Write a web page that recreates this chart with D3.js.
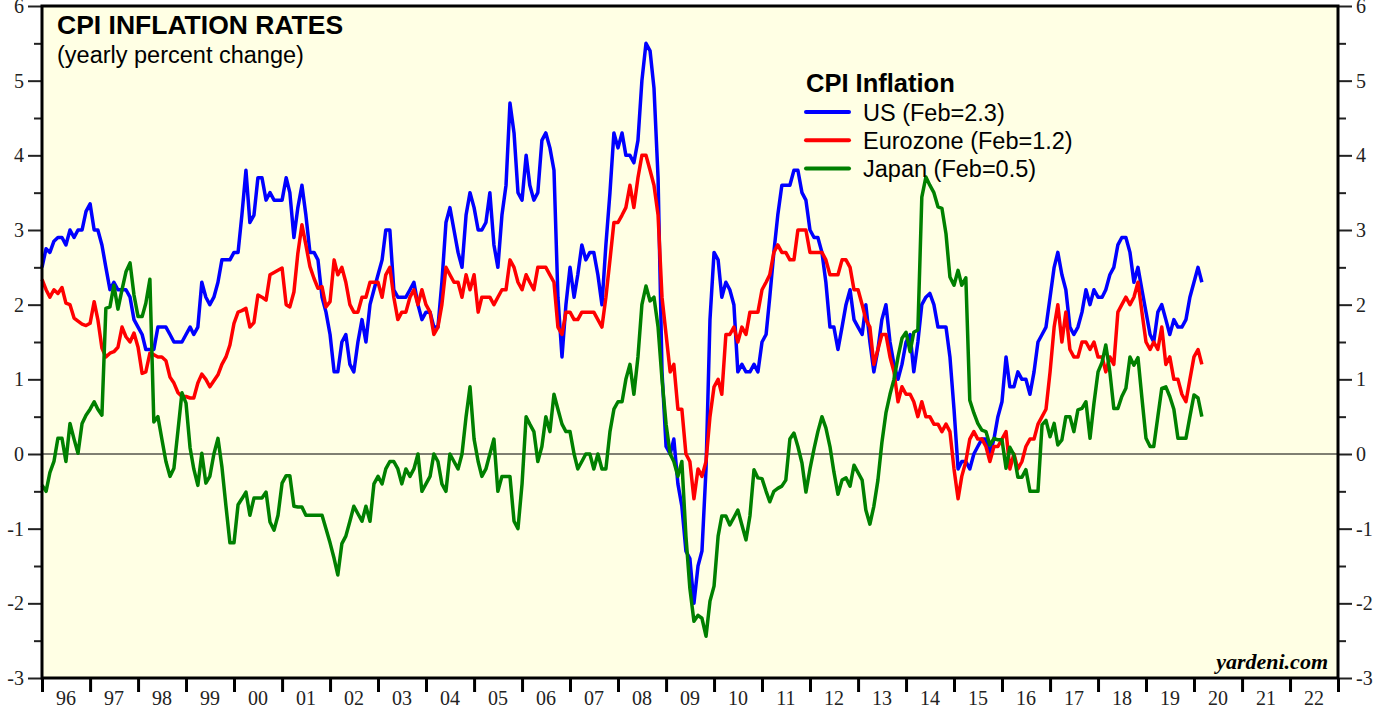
<!DOCTYPE html>
<meta charset="utf-8">
<script src="https://d3js.org/d3.v7.min.js"></script>
<style>
  body { margin: 0; background: #fff; }
  .tick text { font-family: "Liberation Serif", "Times New Roman", serif; font-size: 20px; fill: #222; }
</style>
<body>
<div id="chart"></div>
<script>
// monthly yoy % change, Dec 1995 .. Feb 2020 (one value per month)
var usCpi = [2.5,
  2.75, 2.7, 2.85, 2.9, 2.9, 2.8, 3.0, 2.9, 3.0, 3.0, 3.25, 3.35,   // 96
  3.0, 3.0, 2.8, 2.5, 2.2, 2.3, 2.2, 2.2, 2.2, 2.1, 1.8, 1.7,       // 97
  1.6, 1.4, 1.4, 1.4, 1.7, 1.7, 1.7, 1.6, 1.5, 1.5, 1.5, 1.6,       // 98
  1.7, 1.6, 1.7, 2.3, 2.1, 2.0, 2.1, 2.3, 2.6, 2.6, 2.6, 2.7,       // 99
  2.7, 3.2, 3.8, 3.1, 3.2, 3.7, 3.7, 3.4, 3.5, 3.4, 3.4, 3.4,       // 00
  3.7, 3.5, 2.9, 3.3, 3.6, 3.2, 2.7, 2.7, 2.6, 2.1, 1.9, 1.6,       // 01
  1.1, 1.1, 1.5, 1.6, 1.2, 1.1, 1.5, 1.8, 1.5, 2.0, 2.2, 2.4,       // 02
  2.6, 3.0, 3.0, 2.2, 2.1, 2.1, 2.1, 2.2, 2.3, 2.0, 1.8, 1.9,       // 03
  1.9, 1.7, 1.7, 2.3, 3.1, 3.3, 3.0, 2.7, 2.5, 3.2, 3.5, 3.3,       // 04
  3.0, 3.0, 3.1, 3.5, 2.8, 2.5, 3.2, 3.6, 4.7, 4.3, 3.5, 3.4,       // 05
  4.0, 3.6, 3.4, 3.5, 4.2, 4.3, 4.1, 3.8, 2.1, 1.3, 2.0, 2.5,       // 06
  2.1, 2.4, 2.8, 2.6, 2.7, 2.7, 2.4, 2.0, 2.8, 3.5, 4.3, 4.1,       // 07
  4.3, 4.0, 4.0, 3.9, 4.2, 5.0, 5.5, 5.4, 4.9, 3.7, 1.1, 0.1,       // 08
  0.0, 0.2, -0.4, -0.7, -1.3, -1.4, -2.0, -1.5, -1.3, -0.2, 1.8, 2.7, // 09
  2.6, 2.1, 2.3, 2.2, 2.0, 1.1, 1.2, 1.1, 1.1, 1.2, 1.1, 1.5,       // 10
  1.6, 2.1, 2.7, 3.2, 3.6, 3.6, 3.6, 3.8, 3.8, 3.5, 3.4, 3.0,       // 11
  2.9, 2.9, 2.7, 2.3, 1.7, 1.7, 1.4, 1.7, 2.0, 2.2, 1.8, 1.7,       // 12
  1.6, 2.0, 1.5, 1.1, 1.4, 1.8, 2.0, 1.5, 1.2, 1.0, 1.2, 1.5,       // 13
  1.6, 1.1, 1.5, 2.0, 2.1, 2.15, 2.0, 1.7, 1.7, 1.7, 1.3, 0.6,      // 14
  -0.2, -0.1, -0.1, -0.2, 0.0, 0.1, 0.2, 0.2, 0.0, 0.2, 0.5, 0.7,   // 15
  1.3, 0.9, 0.9, 1.1, 1.0, 1.0, 0.8, 1.1, 1.5, 1.6, 1.7, 2.1,       // 16
  2.5, 2.7, 2.4, 2.2, 1.7, 1.6, 1.7, 1.9, 2.2, 2.0, 2.2, 2.1,       // 17
  2.1, 2.2, 2.4, 2.5, 2.8, 2.9, 2.9, 2.7, 2.3, 2.5, 2.2, 1.9,       // 18
  1.6, 1.5, 1.9, 2.0, 1.8, 1.6, 1.8, 1.7, 1.7, 1.8, 2.1, 2.3,       // 19
  2.5, 2.3];                                                        // 20

var euroCpi = [2.34,
  2.2, 2.1, 2.2, 2.15, 2.23, 2.02, 2.0, 1.82, 1.78, 1.74, 1.72, 1.75,
  2.04, 1.8, 1.42, 1.3, 1.35, 1.37, 1.43, 1.7, 1.57, 1.5, 1.62, 1.43,
  1.08, 1.1, 1.35, 1.33, 1.3, 1.3, 1.25, 1.03, 0.95, 0.82, 0.77, 0.77,
  0.75, 0.75, 0.95, 1.07, 1.0, 0.9, 0.98, 1.06, 1.2, 1.3, 1.46, 1.75,
  1.9, 1.92, 1.95, 1.7, 1.76, 2.13, 2.1, 2.06, 2.4, 2.43, 2.46, 2.49,
  2.0, 1.97, 2.17, 2.69, 3.07, 2.8, 2.51, 2.35, 2.22, 2.24, 1.97, 2.04,
  2.6, 2.4, 2.5, 2.3, 2.0, 1.9, 1.9, 2.1, 2.1, 2.3, 2.3, 2.3,
  2.1, 2.4, 2.5, 2.1, 1.8, 1.9, 1.9, 2.1, 2.2, 2.0, 2.2, 2.0,
  1.9, 1.6, 1.7, 2.0, 2.5, 2.4, 2.3, 2.3, 2.1, 2.4, 2.2, 2.4,
  1.9, 2.1, 2.1, 2.1, 2.0, 2.1, 2.2, 2.2, 2.6, 2.5, 2.3, 2.2,
  2.4, 2.3, 2.2, 2.5, 2.5, 2.5, 2.4, 2.3, 1.7, 1.6, 1.9, 1.9,
  1.8, 1.8, 1.9, 1.9, 1.9, 1.9, 1.8, 1.7, 2.1, 2.6, 3.1, 3.1,
  3.2, 3.3, 3.6, 3.3, 3.7, 4.0, 4.0, 3.8, 3.6, 3.2, 2.1, 1.6,
  1.1, 1.2, 0.6, 0.6, 0.0, -0.1, -0.6, -0.2, -0.3, -0.1, 0.5, 0.9,
  1.0, 0.8, 1.6, 1.6, 1.7, 1.5, 1.7, 1.6, 1.9, 1.9, 1.9, 2.2,
  2.3, 2.4, 2.7, 2.8, 2.7, 2.7, 2.6, 2.6, 3.0, 3.0, 3.0, 2.7,
  2.7, 2.7, 2.7, 2.6, 2.4, 2.4, 2.4, 2.6, 2.6, 2.5, 2.2, 2.2,
  2.0, 1.8, 1.7, 1.2, 1.4, 1.6, 1.6, 1.3, 1.1, 0.7, 0.9, 0.8,
  0.8, 0.7, 0.5, 0.7, 0.5, 0.5, 0.4, 0.4, 0.3, 0.4, 0.3, -0.2,
  -0.6, -0.3, -0.1, 0.2, 0.3, 0.2, 0.2, 0.1, -0.1, 0.1, 0.1, 0.2,
  0.3, -0.2, 0.0, -0.2, -0.1, 0.1, 0.2, 0.2, 0.4, 0.5, 0.6, 1.1,
  1.7, 2.0, 1.5, 1.9, 1.4, 1.3, 1.3, 1.5, 1.5, 1.4, 1.5, 1.3,
  1.3, 1.1, 1.3, 1.2, 1.9, 2.0, 2.1, 2.0, 2.1, 2.3, 1.9, 1.5,
  1.4, 1.5, 1.4, 1.7, 1.2, 1.3, 1.0, 1.0, 0.8, 0.7, 1.0, 1.3,
  1.4, 1.2];

var japanCpi = [-0.42,
  -0.5, -0.25, -0.1, 0.21, 0.21, -0.1, 0.41, 0.2, 0.01, 0.41, 0.52, 0.6,
  0.7, 0.6, 0.52, 1.95, 1.97, 2.26, 1.94, 2.2, 2.44, 2.56, 2.13, 1.84,
  1.84, 2.02, 2.34, 0.43, 0.5, 0.2, -0.1, -0.3, -0.19, 0.32, 0.82, 0.68,
  0.08, -0.2, -0.42, 0.01, -0.39, -0.3, 0.0, 0.21, -0.17, -0.7, -1.19, -1.19,
  -0.68, -0.6, -0.51, -0.82, -0.59, -0.59, -0.59, -0.51, -0.91, -1.02, -0.82, -0.39,
  -0.29, -0.29, -0.7, -0.71, -0.71, -0.82, -0.82, -0.82, -0.82, -0.82, -1.0, -1.19,
  -1.4, -1.62, -1.2, -1.1, -0.9, -0.7, -0.8, -0.9, -0.7, -0.9, -0.4, -0.3,
  -0.4, -0.2, -0.1, -0.1, -0.2, -0.4, -0.2, -0.3, -0.2, 0.0, -0.5, -0.4,
  -0.3, 0.0, -0.1, -0.4, -0.5, 0.0, -0.1, -0.2, 0.0, 0.5, 0.9, 0.2,
  -0.1, -0.3, -0.2, 0.0, 0.2, -0.5, -0.3, -0.3, -0.3, -0.9, -1.0, -0.4,
  0.5, 0.4, 0.3, -0.1, 0.1, 0.5, 0.3, 0.8, 0.6, 0.4, 0.3, 0.3,
  0.0, -0.2, -0.1, 0.0, 0.0, -0.2, 0.0, -0.2, -0.2, 0.3, 0.6, 0.7,
  0.7, 1.0, 1.2, 0.8, 1.3, 2.0, 2.25, 2.05, 2.1, 1.7, 1.0, 0.4,
  0.0, -0.1, -0.3, -0.1, -1.1, -1.8, -2.24, -2.16, -2.2, -2.44, -1.97, -1.77,
  -1.1, -0.83, -0.83, -0.95, -0.85, -0.75, -0.95, -1.15, -0.83, -0.21, -0.32, -0.33,
  -0.5, -0.64, -0.5, -0.46, -0.43, -0.35, 0.2, 0.28, 0.1, -0.12, -0.51, -0.2,
  0.07, 0.3, 0.5, 0.35, 0.1, -0.24, -0.54, -0.35, -0.32, -0.43, -0.15, -0.25,
  -0.35, -0.75, -0.94, -0.7, -0.35, 0.15, 0.55, 0.8, 1.0, 1.3, 1.55, 1.63,
  1.37, 1.63, 1.66, 3.44, 3.71, 3.6, 3.5, 3.31, 3.29, 2.95, 2.37, 2.26,
  2.46, 2.26, 2.36, 0.72, 0.55, 0.41, 0.32, 0.3, 0.12, 0.21, 0.19, 0.19,
  -0.19, 0.09, -0.01, -0.31, -0.31, -0.21, -0.5, -0.5, -0.5, 0.39, 0.45, 0.23,
  0.41, 0.12, 0.19, 0.5, 0.5, 0.3, 0.59, 0.61, 0.7, 0.21, 0.68, 1.1,
  1.23, 1.46, 1.1, 0.61, 0.61, 0.77, 0.88, 1.3, 1.19, 1.29, 0.75, 0.21,
  0.1, 0.1, 0.5, 0.88, 0.9, 0.77, 0.6, 0.21, 0.21, 0.21, 0.5, 0.79,
  0.75, 0.5];

var seriesNames = ["US (Feb=2.3)", "Eurozone (Feb=1.2)", "Japan (Feb=0.5)"];
var seriesColors = ["#0000ff", "#ff0000", "#008000"];
var yTicks = [-3, -2, -1, 0, 1, 2, 3, 4, 5, 6];
var yMinor = [-2.5, -1.5, -0.5, 0.5, 1.5, 2.5, 3.5, 4.5, 5.5];
var yearLabels = ["96","97","98","99","00","01","02","03","04","05","06","07","08","09",
                  "10","11","12","13","14","15","16","17","18","19","20","21","22"];

var W = 1377, H = 708;
var margin = {top: 6, right: 39, bottom: 30, left: 42};
var width = W - margin.left - margin.right,
    height = H - margin.top - margin.bottom;

var svg = d3.select("#chart").append("svg")
    .attr("width", W).attr("height", H)
  .append("g")
    .attr("transform", "translate(" + margin.left + "," + margin.top + ")");

// each value sits at the end of its month
var dates = d3.timeMonth.range(new Date(1996, 0, 1), new Date(2020, 2, 2));

var x = d3.scaleTime()
    .domain([new Date(1996, 0, 1), new Date(2023, 0, 1)])
    .range([0, width]);
var y = d3.scaleLinear().domain([-3, 6]).range([height, 0]);

svg.append("rect")
    .attr("width", width).attr("height", height)
    .attr("fill", "#ffffe4");

var fmt = function(d) { return String(d); };  // plain hyphen minus like the original

// left axis
svg.append("g").call(d3.axisLeft(y).tickValues(yTicks).tickSize(14).tickPadding(4).tickFormat(fmt));
svg.append("g").call(d3.axisLeft(y).tickValues(yMinor).tickSize(8).tickFormat(""));
// right axis
svg.append("g").attr("transform", "translate(" + width + ",0)")
    .call(d3.axisRight(y).tickValues(yTicks).tickSize(14).tickPadding(4).tickFormat(fmt));
svg.append("g").attr("transform", "translate(" + width + ",0)")
    .call(d3.axisRight(y).tickValues(yMinor).tickSize(8).tickFormat(""));
svg.selectAll(".domain").remove();
svg.selectAll(".tick line").attr("stroke", "#222").attr("stroke-width", 2);

// x axis: ticks at year starts, labels mid-year
var yearStarts = d3.timeYear.range(new Date(1996, 0, 1), new Date(2023, 0, 2));
var xa = svg.append("g").attr("transform", "translate(0," + height + ")")
    .call(d3.axisBottom(x).tickValues(yearStarts).tickSize(14).tickFormat(""));
xa.select(".domain").remove();
xa.selectAll(".tick line").attr("stroke", "#000").attr("stroke-width", 3);

svg.append("g").selectAll("text")
    .data(yearLabels)
  .enter().append("text")
    .attr("x", function(d, i) { return x(new Date(1996 + i, 6, 2)); })
    .attr("y", height + 27)
    .attr("text-anchor", "middle")
    .style("font-family", "'Liberation Serif', serif")
    .style("font-size", "20px")
    .attr("fill", "#222")
    .text(function(d) { return d; });

// zero line
svg.append("line")
    .attr("x1", 0).attr("x2", width)
    .attr("y1", y(0)).attr("y2", y(0))
    .attr("stroke", "#000").attr("stroke-width", 1);

var line = d3.line()
    .x(function(d, i) { return x(dates[i]); })
    .y(function(d) { return y(d); });

[usCpi, euroCpi, japanCpi].forEach(function(s, k) {
  svg.append("path")
      .datum(s)
      .attr("fill", "none")
      .attr("stroke", seriesColors[k])
      .attr("stroke-width", 3.5)
      .attr("stroke-linejoin", "round")
      .attr("d", line);
});

// frame
svg.append("rect")
    .attr("width", width).attr("height", height)
    .attr("fill", "none").attr("stroke", "#000").attr("stroke-width", 3);

// titles
svg.append("text")
    .attr("x", 15).attr("y", 28)
    .style("font-family", "'Liberation Sans', Arial, sans-serif")
    .style("font-weight", "bold").style("font-size", "26.5px")
    .text("CPI INFLATION RATES");
svg.append("text")
    .attr("x", 15).attr("y", 57)
    .style("font-family", "'Liberation Sans', Arial, sans-serif")
    .style("font-size", "23.5px")
    .text("(yearly percent change)");

// legend
var legend = svg.append("g").attr("transform", "translate(764,0)");
legend.append("text")
    .attr("x", 0).attr("y", 86)
    .style("font-family", "'Liberation Sans', Arial, sans-serif")
    .style("font-weight", "bold").style("font-size", "25.5px")
    .text("CPI Inflation");
seriesNames.forEach(function(name, k) {
  var ly = 106 + k * 28.3;
  legend.append("line")
      .attr("x1", 0).attr("x2", 43).attr("y1", ly).attr("y2", ly)
      .attr("stroke", seriesColors[k]).attr("stroke-width", 4)
      .attr("stroke-linecap", "round");
  legend.append("text")
      .attr("x", 57).attr("y", ly + 8.5)
      .style("font-family", "'Liberation Sans', Arial, sans-serif")
      .style("font-size", "23.5px")
      .text(name);
});

svg.append("text")
    .attr("x", width - 10).attr("y", height - 9)
    .attr("text-anchor", "end")
    .style("font-family", "'Liberation Serif', serif")
    .style("font-weight", "bold").style("font-style", "italic").style("font-size", "22px")
    .text("yardeni.com");
</script>
</body>
